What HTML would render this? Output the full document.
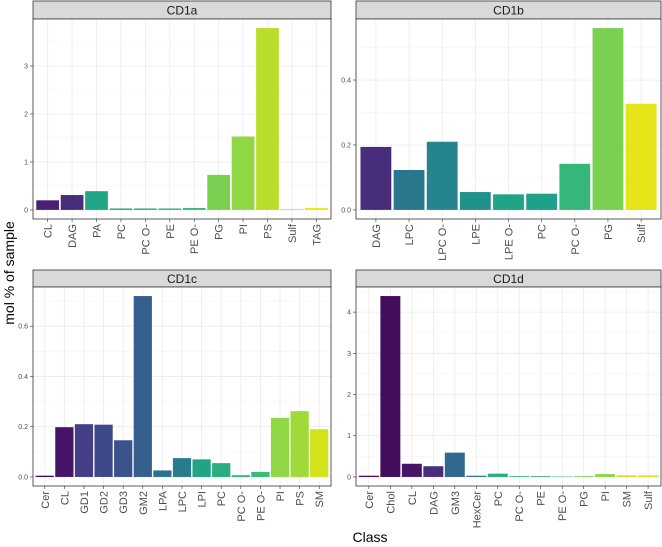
<!DOCTYPE html>
<html><head><meta charset="utf-8">
<style>
body{margin:0;background:#fff;}
svg{display:block;font-family:"Liberation Sans",sans-serif;}
</style></head>
<body>
<svg id="chart" width="662" height="547" viewBox="0 0 662 547">
<text x="14" y="273" transform="rotate(-90 14 273)" text-anchor="middle" font-size="14" fill="#000">mol % of sample</text>
<text x="370" y="542" text-anchor="middle" font-size="14" fill="#000">Class</text>
</svg>
<script>
const catsA = ["CL","DAG","PA","PC","PC O-","PE","PE O-","PG","PI","PS","Sulf","TAG"];
const valsA = [0.2,0.31,0.39,0.03,0.03,0.03,0.04,0.73,1.53,3.79,0.02,0.04];
const ticksA = [0,1,2,3];
const catsB = ["DAG","LPC","LPC O-","LPE","LPE O-","PC","PC O-","PG","Sulf"];
const valsB = [0.194,0.123,0.21,0.055,0.048,0.05,0.142,0.56,0.327];
const ticksB = [0,0.2,0.4];
const catsC = ["Cer","CL","GD1","GD2","GD3","GM2","LPA","LPC","LPI","PC","PC O-","PE O-","PI","PS","SM"];
const valsC = [0.005,0.198,0.21,0.208,0.146,0.72,0.026,0.075,0.07,0.055,0.007,0.02,0.235,0.262,0.19];
const ticksC = [0,0.2,0.4,0.6];
const catsD = ["Cer","Chol","CL","DAG","GM3","HexCer","PC","PC O-","PE","PE O-","PG","PI","SM","Sulf"];
const valsD = [0.03,4.39,0.32,0.26,0.59,0.03,0.08,0.02,0.02,0.01,0.02,0.07,0.04,0.04];
const ticksD = [0,1,2,3,4];

const colA = ["#482173","#472d7b","#21a585","#2a9d8a","#27ad81","#2fb47c","#3bbb75","#7ad151","#8fd744","#b8de29","#e5e419","#f2e51d"];
const colB = ["#472d7b","#2a788e","#25848e","#21918c","#20a386","#1fa088","#35b779","#7ad151","#e5e419"];
const colC = ["#440154","#481467","#433e85","#3e4989","#3b528b","#355f8d","#2c728e","#287c8e","#20a486","#29af7f","#2fb47c","#3bbb75","#8fd744","#a0da39","#d2e21b"];
const colD = ["#440154","#440d5b","#481467","#472d7b","#31688e","#2c728e","#29af7f","#2fb47c","#35b779","#3bbb75","#7ad151","#8fd744","#d2e21b","#e5e419"];

const NS="http://www.w3.org/2000/svg";
const svg=document.getElementById('chart');
function mk(tag,attrs,parent){const e=document.createElementNS(NS,tag);for(const k in attrs)e.setAttribute(k,attrs[k]);(parent||svg).appendChild(e);return e;}

function panel(title,cats,vals,ticks,cols,x0,x1,sy,py0,py1,key){
  const g=mk('g',{});
  
  
  const strip=mk('rect',{x:x0,y:sy,width:x1-x0,height:py0-sy,fill:'#d9d9d9',stroke:'#333','stroke-width':0.8},g);
  
  
  const st=mk('text',{x:(x0+x1)/2,y:(sy+py0)/2+4.5,'text-anchor':'middle','font-size':12,fill:'#1a1a1a'},g);
  st.textContent=title;
  
  
  mk('rect',{x:x0,y:py0,width:x1-x0,height:py1-py0,fill:'#fff'},g);
  const mx=Math.max(...vals);
  const lo=-0.05*mx, hi=mx*1.05;
  const ys=v=>py1-(v-lo)/(hi-lo)*(py1-py0);
  const n=cats.length, band=(x1-x0)/(n+0.2);
  const xs=i=>x0+band*(0.1+i+0.5);
  const dec=ticks.some(v=>v%1);
  const step=ticks.length>1?ticks[1]-ticks[0]:1;
  ticks.forEach(t=>{
    const m=t+step/2;
    if(m<hi) mk('line',{x1:x0,x2:x1,y1:ys(m),y2:ys(m),stroke:'#f2f2f2','stroke-width':0.5},g);
  });
  ticks.forEach(t=>{
    mk('line',{x1:x0,x2:x1,y1:ys(t),y2:ys(t),stroke:'#ebebeb','stroke-width':0.8},g);
    mk('line',{x1:x0-3,x2:x0,y1:ys(t),y2:ys(t),stroke:'#333','stroke-width':0.6},g);
    const tl=mk('text',{x:x0-5,y:ys(t)+2.5,'text-anchor':'end','font-size':7,fill:'#4d4d4d'},g);
    tl.textContent=dec?t.toFixed(1):String(t);
    
    
  });
  cats.forEach((c,i)=>{
    mk('line',{x1:xs(i),x2:xs(i),y1:py0,y2:py1,stroke:'#ebebeb','stroke-width':0.8},g);
  });
  cats.forEach((c,i)=>{
    const b=mk('rect',{x:xs(i)-band*0.465,y:ys(vals[i]),width:band*0.93,height:Math.max(0.5,ys(0)-ys(vals[i])),fill:cols[i]},g);
    
    
    mk('line',{x1:xs(i),x2:xs(i),y1:py1,y2:py1+3,stroke:'#333','stroke-width':0.6},g);
    const tx=xs(i)+4, ty=py1+5;
    const xl=mk('text',{x:tx,y:ty,transform:`rotate(-90 ${tx} ${ty})`,'text-anchor':'end','font-size':11,fill:'#4d4d4d'},g);
    xl.textContent=c;
    
    
  });
  mk('rect',{x:x0,y:py0,width:x1-x0,height:py1-py0,fill:'none',stroke:'#333','stroke-width':0.8},g);
}
panel('CD1a',catsA,valsA,ticksA,colA,33,331,1,19,219,'cd1a');
panel('CD1b',catsB,valsB,ticksB,colB,356,661,1,19,219,'cd1b');
panel('CD1c',catsC,valsC,ticksC,colC,33,331,270,287,486,'cd1c');
panel('CD1d',catsD,valsD,ticksD,colD,356,661,270,287,486,'cd1d');
</script>
</body></html>
